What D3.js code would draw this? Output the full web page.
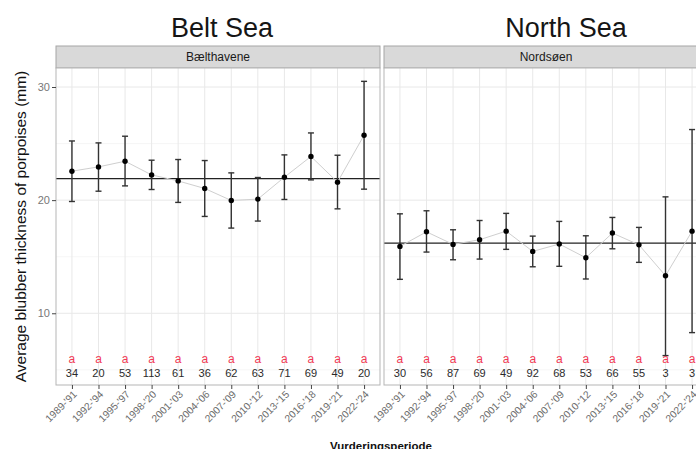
<!DOCTYPE html>
<html><head><meta charset="utf-8">
<script src="https://cdn.jsdelivr.net/npm/d3@7"></script>
<style>body{margin:0;background:#fff}svg{display:block}</style>
</head><body>
<script>
const periods = ["1989-'91","1992-'94","1995-'97","1998-'20","2001-'03","2004-'06","2007-'09","2010-'12","2013-'15","2016-'18","2019-'21","2022-'24"];
const beltMean = [22.56,22.94,23.44,22.23,21.70,21.03,19.97,20.09,22.03,23.86,21.59,25.74];
const beltLow  = [19.88,20.79,21.26,20.94,19.80,18.56,17.53,18.15,20.06,21.79,19.23,20.97];
const beltHigh = [25.23,25.06,25.65,23.53,23.59,23.50,22.41,22.00,24.00,25.94,23.97,30.50];
const beltN    = [34,20,53,113,61,36,62,63,71,69,49,20];
const beltOverall = 21.91;
const northMean = [15.91,17.20,16.09,16.50,17.26,15.47,16.12,14.91,17.09,16.05,13.32,17.26];
const northLow  = [13.00,15.41,14.73,14.79,15.65,14.11,14.15,13.03,15.70,14.50,6.26,8.29];
const northHigh = [18.79,19.06,17.38,18.20,18.83,16.82,18.12,16.85,18.47,17.59,20.29,26.24];
const northN    = [30,56,87,69,49,92,68,53,66,55,3,3];
const northOverall = 16.2;
const groupLetters = ["a","a","a","a","a","a","a","a","a","a","a","a"];
const yTicks = [10,20,30];
const yMinor = [5,15,25];
const titles = ["Belt Sea","North Sea"];
const strips = ["Bælthavene","Nordsøen"];

const W = 696, H = 449;
const svg = d3.select("body").append("svg").attr("width",W).attr("height",H);
const font = "'Liberation Sans', Arial, Helvetica, sans-serif";

const pTop = 68, pBottom = 385, pw = 324;
const panelsX = [56, 384];
const y = d3.scaleLinear().domain([3.66, 31.68]).range([pBottom, pTop]);
const x = d3.scalePoint().domain(periods).range([0, pw]).padding(0.6);

const panels = [
  {mean: beltMean, low: beltLow, high: beltHigh, n: beltN, overall: beltOverall, titleX: 222},
  {mean: northMean, low: northLow, high: northHigh, n: northN, overall: northOverall, titleX: 566}
];

panels.forEach((p, i) => {
  const x0 = panelsX[i];
  const g = svg.append("g").attr("transform", `translate(${x0},0)`);
  svg.append("text").attr("x", p.titleX).attr("y", 37).attr("text-anchor","middle")
    .attr("font-family", font).attr("font-size", 27).attr("fill","#151515").text(titles[i]);
  g.append("rect").attr("x",0).attr("y",46).attr("width",pw).attr("height",22)
    .attr("fill","#d9d9d9").attr("stroke","#a6a6a6").attr("stroke-width",1);
  g.append("text").attr("x", pw/2).attr("y", 61).attr("text-anchor","middle")
    .attr("font-family", font).attr("font-size", 12).attr("fill","#1a1a1a").text(strips[i]);
  g.append("rect").attr("x",0).attr("y",pTop).attr("width",pw).attr("height",pBottom-pTop).attr("fill","#fff");
  g.selectAll(".ymin").data(yMinor).join("line")
    .attr("x1",0).attr("x2",pw).attr("y1",d=>y(d)).attr("y2",d=>y(d))
    .attr("stroke","#f4f4f4").attr("stroke-width",0.8);
  g.selectAll(".ymaj").data(yTicks).join("line")
    .attr("x1",0).attr("x2",pw).attr("y1",d=>y(d)).attr("y2",d=>y(d))
    .attr("stroke","#e8e8e8").attr("stroke-width",1);
  g.selectAll(".xg").data(periods).join("line")
    .attr("x1",d=>x(d)).attr("x2",d=>x(d)).attr("y1",pTop).attr("y2",pBottom)
    .attr("stroke","#e8e8e8").attr("stroke-width",1);
  g.append("line").attr("x1",0).attr("x2",pw).attr("y1",y(p.overall)).attr("y2",y(p.overall))
    .attr("stroke","#222").attr("stroke-width",1.2);
  const line = d3.line().x((d,j)=>x(periods[j])).y(d=>y(d));
  g.append("path").attr("d", line(p.mean)).attr("fill","none").attr("stroke","#cfcfcf").attr("stroke-width",1);
  const eb = g.selectAll(".eb").data(periods).join("g");
  eb.append("line").attr("x1",d=>x(d)).attr("x2",d=>x(d))
    .attr("y1",(d,j)=>y(p.low[j])).attr("y2",(d,j)=>y(p.high[j]))
    .attr("stroke","#333").attr("stroke-width",1.4);
  eb.append("line").attr("x1",d=>x(d)-3).attr("x2",d=>x(d)+3)
    .attr("y1",(d,j)=>y(p.low[j])).attr("y2",(d,j)=>y(p.low[j]))
    .attr("stroke","#333").attr("stroke-width",1.4);
  eb.append("line").attr("x1",d=>x(d)-3).attr("x2",d=>x(d)+3)
    .attr("y1",(d,j)=>y(p.high[j])).attr("y2",(d,j)=>y(p.high[j]))
    .attr("stroke","#333").attr("stroke-width",1.4);
  g.selectAll(".pt").data(periods).join("circle")
    .attr("cx",d=>x(d)).attr("cy",(d,j)=>y(p.mean[j])).attr("r",2.7).attr("fill","#000");
  g.selectAll(".lt").data(periods).join("text")
    .attr("x",d=>x(d)).attr("y",y(5.6)).attr("text-anchor","middle")
    .attr("font-family",font).attr("font-size",12).attr("fill","#f03a55")
    .text((d,j)=>groupLetters[j]);
  g.selectAll(".nt").data(periods).join("text")
    .attr("x",d=>x(d)).attr("y",y(4.41)).attr("text-anchor","middle")
    .attr("font-family",font).attr("font-size",11).attr("fill","#2a2a2a")
    .text((d,j)=>p.n[j]);
  g.append("rect").attr("x",0).attr("y",pTop).attr("width",pw).attr("height",pBottom-pTop)
    .attr("fill","none").attr("stroke","#b5b5b5").attr("stroke-width",1);
  const xa = g.append("g").attr("transform",`translate(0,${pBottom})`)
    .call(d3.axisBottom(x).tickSize(4).tickPadding(3));
  xa.select(".domain").remove();
  xa.selectAll(".tick line").attr("stroke","#444");
  xa.selectAll(".tick text").attr("font-family",font).attr("font-size",10.2).attr("fill","#6a6a6a")
    .attr("text-anchor","end").attr("dy",null)
    .attr("transform","translate(5,10) rotate(-45)").attr("y",0).attr("x",0);
  if (i === 0) {
    const ya = g.append("g").call(d3.axisLeft(y).tickValues(yTicks).tickSize(4).tickPadding(2));
    ya.select(".domain").remove();
    ya.selectAll(".tick line").attr("stroke","#444");
    ya.selectAll(".tick text").attr("font-family",font).attr("font-size",11).attr("fill","#777");
  }
});

svg.append("text").attr("transform",`translate(26,${(pTop+pBottom)/2}) rotate(-90)`)
  .attr("text-anchor","middle").attr("font-family",font).attr("font-size",15.5).attr("fill","#111")
  .text("Average blubber thickness of porpoises (mm)");
svg.append("text").attr("x",381).attr("y",450).attr("text-anchor","middle")
  .attr("font-family",font).attr("font-size",11.5).attr("font-weight","bold").attr("fill","#111")
  .text("Vurderingsperiode");
</script>
</body></html>
